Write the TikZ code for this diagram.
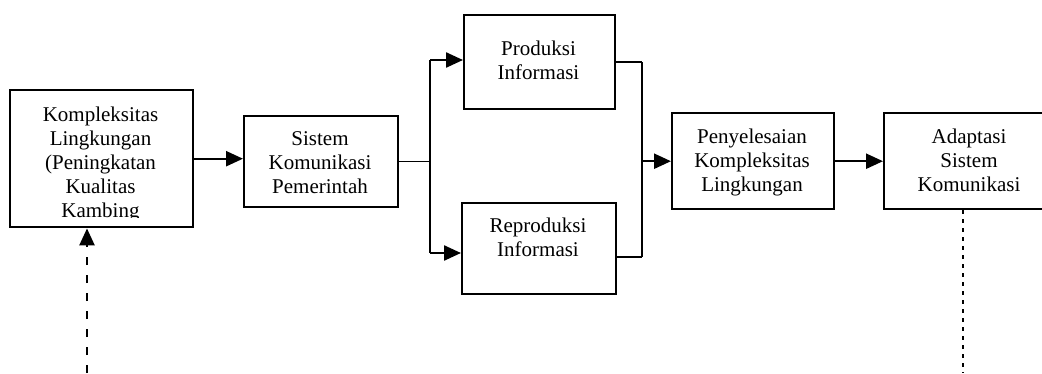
\documentclass[tikz,border=0pt]{standalone}
\usepackage{fontspec}
\setmainfont{Liberation Serif}
\usetikzlibrary{arrows.meta}
\begin{document}
\begin{tikzpicture}[x=1pt,y=-1pt,
  box/.style={draw, line width=2.4pt, inner sep=0pt, anchor=north west},
  lbl/.style={inner sep=0pt, anchor=north, align=center, font=\fontsize{21}{24}\selectfont},
  thinline/.style={line width=1.1pt},
  tip/.style={-{Triangle[length=17pt,width=15pt]}},
  thickarr/.style={line width=2.4pt, tip},
]
\useasboundingbox (0,0) rectangle (1042,373);
% boxes
\node[box, minimum width=183pt, minimum height=137pt] (k) at (9,89) {};
\node[box, minimum width=154pt, minimum height=91pt] (s) at (243,115) {};
\node[box, minimum width=151pt, minimum height=94pt] (p) at (463,14) {};
\node[box, minimum width=154pt, minimum height=91pt] (r) at (461,202) {};
\node[box, minimum width=162pt, minimum height=96pt] (q) at (671,112) {};
\node[box, minimum width=173pt, minimum height=96pt] (a) at (883,112) {};
% labels
\begin{scope}
\clip (9,89) rectangle (192,217);
\node[lbl] (kt) at (100.5,107) {Kompleksitas\\Lingkungan\\(Peningkatan\\Kualitas\\Kambing};
\end{scope}
\node[lbl] (st) at (320,131) {Sistem\\Komunikasi\\Pemerintah};
\node[lbl] (pt) at (538.5,41) {Produksi\\Informasi};
\node[lbl] (rt) at (538,218) {Reproduksi\\Informasi};
\node[lbl] (qt) at (752,129) {Penyelesaian\\Kompleksitas\\Lingkungan};
\node[lbl] (at) at (969,129) {Adaptasi\\Sistem\\Komunikasi};
% junction coordinates
\coordinate (ja) at (430,60);
\coordinate (jb) at (430,253);
\coordinate (jc) at (642,62);
\coordinate (jd) at (642,257);
\coordinate (d1) at (87,373);
\coordinate (d2) at (963,373);
% connectors
\draw[thickarr] (k.east) -- (k.east -| s.west);
\draw[thinline] (s.east) -- (s.east -| ja);
\draw[thinline] (ja) -- (jb);
\draw[thickarr] (ja) -- (ja -| p.west);
\draw[thickarr] (jb) -- (jb -| r.west);
\draw[thinline] (jc -| p.east) -- (jc);
\draw[thinline] (jd -| r.east) -- (jd);
\draw[thinline] (jc) -- (jd);
\draw[thickarr] (q.west -| jc) -- (q.west);
\draw[thickarr] (q.east) -- (q.east -| a.west);
\draw[line width=2.4pt, dash pattern=on 8pt off 10pt, tip] (d1) -- (d1 |- k.south);
\draw[line width=1.1pt, dash pattern=on 4pt off 5pt] (d2 |- a.south) -- (d2);
\end{tikzpicture}
\end{document}
